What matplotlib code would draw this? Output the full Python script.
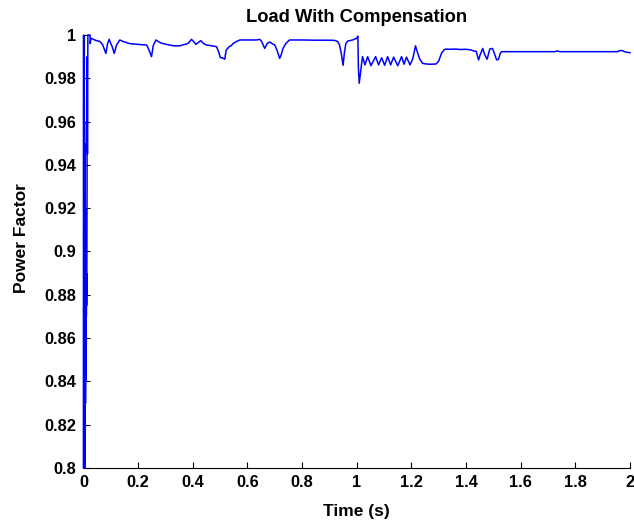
import matplotlib
matplotlib.use("Agg")
import matplotlib.pyplot as plt
import numpy as np

# start-up transient (fast swings right after t = 0)
t_start = [0.0000, 0.0004, 0.0008, 0.0012, 0.0016, 0.0020, 0.0024, 0.0028, 0.0032, 0.0036,
           0.0040, 0.0044, 0.0048, 0.0052, 0.0056, 0.0060, 0.0064, 0.0068, 0.0072, 0.0076,
           0.0080, 0.0084, 0.0088, 0.0092, 0.0096, 0.0100, 0.0104, 0.0108, 0.0112, 0.0116,
           0.0120, 0.0125, 0.0130, 0.0135, 0.0145, 0.0160]
pf_start = [0.800, 1.000, 0.800, 0.990, 0.800, 0.980, 0.800, 0.970, 0.800, 0.960,
            0.800, 0.950, 0.800, 0.940, 0.810, 0.930, 0.820, 0.920, 0.830, 0.910,
            0.840, 0.905, 0.850, 0.900, 0.860, 0.895, 0.870, 0.890, 0.875, 0.885,
            0.880, 0.905, 0.930, 0.990, 0.945, 1.000]

# time (s) and power factor, after the start-up
t_main = [0.024, 0.0245, 0.027, 0.036, 0.045,
          0.060, 0.070, 0.082, 0.088, 0.094, 0.100, 0.105, 0.1125, 0.121, 0.133,
          0.145, 0.158, 0.170, 0.188, 0.200, 0.215, 0.231, 0.240, 0.249, 0.255,
          0.265, 0.280, 0.292, 0.310, 0.330, 0.352, 0.365, 0.377, 0.386, 0.395,
          0.403, 0.411, 0.420, 0.429, 0.440, 0.450, 0.470, 0.487, 0.495, 0.501,
          0.508, 0.517, 0.522, 0.533, 0.540, 0.547, 0.560, 0.572, 0.600, 0.620,
          0.633, 0.645, 0.652, 0.663, 0.672, 0.681, 0.690, 0.700, 0.708, 0.718,
          0.724, 0.730, 0.740, 0.754, 0.800, 0.850, 0.900, 0.919, 0.930, 0.937,
          0.944, 0.950, 0.955, 0.960, 0.967, 0.985, 1.000, 1.004, 1.006, 1.009,
          1.021, 1.030, 1.040, 1.052, 1.069, 1.080, 1.091, 1.102, 1.113, 1.124,
          1.135, 1.150, 1.164, 1.173, 1.182, 1.195, 1.205, 1.215,
          1.222, 1.230, 1.241, 1.255, 1.270, 1.290, 1.300, 1.310,
          1.320, 1.327, 1.340, 1.360, 1.380, 1.400, 1.412, 1.420, 1.430, 1.437,
          1.446, 1.452, 1.461, 1.468, 1.477, 1.487, 1.497, 1.505, 1.512, 1.519,
          1.525, 1.530, 1.600, 1.700, 1.725, 1.733, 1.745, 1.800, 1.900, 1.955,
          1.962, 1.972, 1.980, 1.990, 2.000]
pf_main = [1.000, 0.996, 0.9985, 0.998, 0.9975,
           0.997, 0.9955, 0.9915, 0.996, 0.998, 0.996, 0.9946, 0.9915, 0.9954, 0.9977,
           0.997, 0.9965, 0.996, 0.9958, 0.9957, 0.9955, 0.9954, 0.993, 0.990, 0.995,
           0.9977, 0.9965, 0.996, 0.9955, 0.995, 0.995, 0.9955, 0.9958, 0.9965, 0.998,
           0.997, 0.9957, 0.9965, 0.9974, 0.996, 0.9954, 0.995, 0.9946, 0.992, 0.9895,
           0.9895, 0.9888, 0.993, 0.9946, 0.995, 0.996, 0.997, 0.9977, 0.9977, 0.9977,
           0.9977, 0.998, 0.997, 0.9938, 0.996, 0.9968, 0.996, 0.9954, 0.993, 0.9892,
           0.991, 0.9938, 0.996, 0.9977, 0.9977, 0.9976, 0.9976, 0.9975, 0.997, 0.9954,
           0.991, 0.986, 0.992, 0.996, 0.9972, 0.9977, 0.9985, 0.9995, 0.985, 0.9777,
           0.9900, 0.9862, 0.9900, 0.9858, 0.9900, 0.9862, 0.9895, 0.9860, 0.9900, 0.9862,
           0.9898, 0.9858, 0.9900, 0.9865, 0.9898, 0.9862, 0.9890, 0.9950,
           0.992, 0.989, 0.9869, 0.9866, 0.9865, 0.9866, 0.988, 0.9915,
           0.9932, 0.9935, 0.9934, 0.9935, 0.9933, 0.9934, 0.9932, 0.993, 0.9925, 0.9925,
           0.9885, 0.991, 0.9938, 0.991, 0.9888, 0.9935, 0.9938, 0.991, 0.9885, 0.9888,
           0.9915, 0.9923, 0.9923, 0.9923, 0.9923, 0.9926, 0.9923, 0.9923, 0.9923, 0.9923,
           0.9928, 0.9928, 0.9923, 0.992, 0.9918]

xticks = np.arange(0, 2.01, 0.2)
xlabels = ["0", "0.2", "0.4", "0.6", "0.8", "1", "1.2", "1.4", "1.6", "1.8", "2"]
yticks = np.arange(0.8, 1.001, 0.02)
ylabels = ["0.8", "0.82", "0.84", "0.86", "0.88", "0.9", "0.92", "0.94", "0.96", "0.98", "1"]

t = t_start + t_main
pf = pf_start + pf_main

plt.rcParams['font.family'] = ['Liberation Sans', 'DejaVu Sans']
plt.rcParams['font.weight'] = 'bold'

fig = plt.figure(figsize=(6.34, 5.20), dpi=100)
ax = fig.add_axes([83.5/634, 52/520, 546.5/634, 433/520])

ax.plot(t, pf, color='#0000ff', lw=1.1, clip_on=False, zorder=3)

ax.set_xlim(0, 2)
ax.set_ylim(0.8, 1)
ax.set_xticks(xticks)
ax.set_xticklabels(xlabels)
ax.set_yticks(yticks)
ax.set_yticklabels(ylabels)
ax.tick_params(direction='in', length=4.5, width=0.8, labelsize=11.8, pad=5)

# box off, like the matlab figure
ax.spines['top'].set_visible(False)
ax.spines['right'].set_visible(False)
for s in ['left', 'bottom']:
    ax.spines[s].set_linewidth(0.8)

ax.set_title("Load With Compensation", fontsize=13.2, fontweight='bold', pad=9)
ax.set_xlabel("Time (s)", fontsize=12.5, fontweight='bold', labelpad=10)
ax.set_ylabel("Power Factor", fontsize=12.5, fontweight='bold')
ax.yaxis.set_label_coords(-0.099, 0.53)

fig.savefig("out.png", dpi=100)
